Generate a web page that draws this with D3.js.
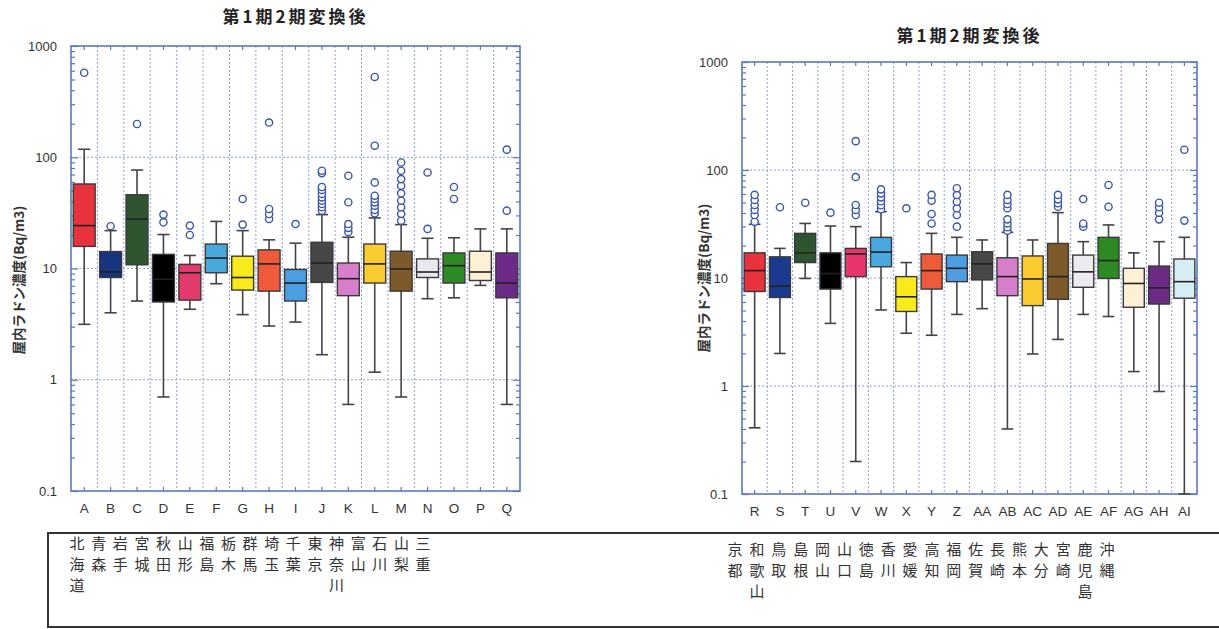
<!DOCTYPE html>
<html>
<head>
<meta charset="utf-8">
<script src="https://cdn.jsdelivr.net/npm/d3@7"></script>
<style>
  body { margin: 0; background: #fff; }
  svg { display: block; font-family: "Liberation Sans", Arial, sans-serif; }
  .jp { font-family: "Noto Sans CJK JP", sans-serif; }
  .vert { writing-mode: vertical-rl; }
</style>
</head>
<body>
<div id="chart"></div>
<script>
// ---- data ----
const chartTitle = "第1期2期変換後";
const yTitle = "屋内ラドン濃度(Bq/m3)";
const yTicks = [0.1, 1, 10, 100, 1000];
const yTickLabels = ["0.1", "1", "10", "100", "1000"];

// left panel
const leftCats = ["A","B","C","D","E","F","G","H","I","J","K","L","M","N","O","P","Q"];
const leftNames = ["北海道","青森","岩手","宮城","秋田","山形","福島","栃木","群馬","埼玉","千葉","東京","神奈川","富山","石川","山梨","三重"];
const leftColors = ["#e8333d","#17347e","#2e5530","#000000","#e43a6b","#48a8dc","#f9ea1c","#ee5a3a","#4c9ee0","#474747","#d67ec9","#fbcc32","#7c5a2c","#e8e8ee","#2e8a24","#fcf1d4","#6a2a86"];
const leftLow  = [3.15, 4.0, 5.1, 0.70, 4.3, 7.3, 3.85, 3.04, 3.3, 1.68, 0.6, 1.17, 0.70, 5.35, 5.45, 7.05, 0.6];
const leftQ1   = [15.8, 8.3, 10.8, 5.0, 5.2, 9.15, 6.4, 6.26, 5.1, 7.5, 5.7, 7.4, 6.26, 8.3, 7.4, 7.8, 5.45];
const leftMed  = [24.3, 9.3, 27.9, 8.0, 9.15, 12.4, 8.3, 11.0, 7.4, 11.2, 8.1, 11.0, 9.9, 9.3, 10.6, 9.3, 7.4];
const leftQ3   = [57.5, 14.2, 46, 13.4, 10.9, 16.6, 12.9, 14.7, 9.8, 17.2, 11.2, 16.6, 14.3, 12.2, 13.8, 14.3, 13.8];
const leftHigh = [118, 21.9, 76.8, 20.2, 13.1, 26.5, 21.9, 18.1, 16.9, 30.5, 19.1, 28.5, 24.8, 18.7, 18.9, 22.7, 22.7];
const leftOut  = [
  [575], [24], [199], [26, 30.5], [20, 24.3], [], [24.8, 42.2],
  [27.9, 30.9, 34.3, 205], [25.1],
  [33.1, 35.5, 38, 40.7, 43.6, 46.8, 50.9, 54, 72, 75.6],
  [21.3, 23.2, 25.1, 39.4, 68.2],
  [31.3, 33.6, 36.7, 39.3, 42.1, 45.1, 59.4, 127, 527],
  [26.9, 31, 35.5, 40.7, 47.4, 55.5, 63.6, 75.6, 89.7],
  [22.7, 73], [42.2, 54], [], [33.1, 117]
];

// right panel
const rightCats = ["R","S","T","U","V","W","X","Y","Z","AA","AB","AC","AD","AE","AF","AG","AH","AI"];
const rightNames = ["京都","和歌山","鳥取","島根","岡山","山口","徳島","香川","愛媛","高知","福岡","佐賀","長崎","熊本","大分","宮崎","鹿児島","沖縄"];
const rightColors = ["#e8333d","#1a3a8e","#2e5530","#000000","#e8356e","#4aa8e0","#f9ea1c","#ee5a3a","#4c9ee0","#474747","#d67ec9","#fbcc32","#7c5a2c","#ececf0","#2e8a24","#fcf1d4","#6a2a86","#d8eef6"];
const rightLow  = [0.41, 2.0, 9.9, 3.8, 0.2, 5.06, 3.08, 2.95, 4.6, 5.2, 0.4, 1.98, 2.7, 4.6, 4.4, 1.36, 0.89, 0.1];
const rightQ1   = [7.5, 6.6, 13.9, 7.9, 10.3, 12.7, 4.9, 7.9, 9.25, 9.6, 6.86, 5.55, 6.35, 8.2, 9.9, 5.36, 5.74, 6.5];
const rightMed  = [11.7, 8.4, 17.1, 11.0, 16.7, 17.4, 6.7, 11.7, 12.3, 13.5, 10.3, 9.8, 10.3, 11.4, 14.5, 8.9, 8.1, 9.25];
const rightQ3   = [17.1, 15.7, 25.9, 17.1, 18.8, 23.8, 10.3, 16.7, 16.3, 17.5, 15.4, 16, 20.9, 16.3, 23.8, 12.3, 12.9, 15];
const rightHigh = [31.4, 18.8, 32, 30.3, 29.9, 41.1, 13.9, 25.9, 23.8, 22.5, 26.5, 22.5, 40.3, 21.7, 31, 17.1, 21.7, 23.8];
const rightOut  = [
  [33.2, 38.3, 42.7, 47.4, 52.8, 58.8], [45.2], [49.8], [40.3],
  [38.3, 42.7, 47.4, 86, 185],
  [43.3, 47.1, 51.3, 55.8, 60.8, 66.2], [44.2], [32, 39.2, 52, 58.8],
  [29.9, 38.3, 44.2, 50.8, 58.8, 67.8], [],
  [27.4, 29.5, 32, 34.9, 44.2, 48.4, 52.8, 58.8], [],
  [45.7, 49.2, 53.5, 58.8], [29.9, 32, 53.8], [45.7, 72.6], [],
  [34.9, 40.3, 45.2, 49.8], [34, 154]
];

// ---- drawing ----
const svg_width = 1219, svg_height = 629;
const frameColor = "#5a78c0";
const gridColor = "#8ea0d8";

const svg = d3.select("#chart").append("svg")
  .attr("width", svg_width)
  .attr("height", svg_height);

// minor ticks 0.2..0.9, 2..9, ...
const minorTicks = [];
[0.1, 1, 10, 100].forEach(d => { for (let k = 2; k <= 9; k++) minorTicks.push(+(d * k).toPrecision(3)); });

function drawPanel(p) {
  const data = p.cats.map((c, i) => ({
    cat: c, color: p.colors[i], low: p.low[i], q1: p.q1[i], med: p.med[i],
    q3: p.q3[i], high: p.high[i], out: p.out[i]
  }));

  const x = d3.scaleBand().domain(p.cats).range([p.left, p.right]).padding(0);
  const y = d3.scaleLog().domain([0.1, 1000]).range([p.bottom, p.top]);
  const g = svg.append("g");
  const bw = x.bandwidth() * 0.83;
  const cap = x.bandwidth() * 0.46;

  // grid
  g.selectAll(".hgrid").data([1, 10, 100]).enter().append("line")
    .attr("x1", p.left).attr("x2", p.right)
    .attr("y1", d => y(d)).attr("y2", d => y(d))
    .attr("stroke", gridColor).attr("stroke-width", 1).attr("stroke-dasharray", "2,2");
  g.selectAll(".vgrid").data(p.cats.slice(1)).enter().append("line")
    .attr("x1", d => x(d)).attr("x2", d => x(d))
    .attr("y1", p.top).attr("y2", p.bottom)
    .attr("stroke", gridColor).attr("stroke-width", 1).attr("stroke-dasharray", "2,2");

  // axes (ticks inward)
  const leftAxis = g.append("g").attr("transform", `translate(${p.left},0)`)
    .call(d3.axisLeft(y).tickValues(yTicks).tickSize(-7).tickPadding(14)
      .tickFormat((d, i) => yTickLabels[i]));
  leftAxis.selectAll("text").attr("font-size", 13).attr("fill", "#333")
    .attr("font-family", "Liberation Sans, Arial, sans-serif");
  g.append("g").attr("transform", `translate(${p.left},0)`)
    .call(d3.axisLeft(y).tickValues(minorTicks).tickSize(-4).tickFormat(""));
  g.append("g").attr("transform", `translate(${p.right},0)`)
    .call(d3.axisRight(y).tickValues(yTicks).tickSize(-7).tickFormat(""));
  g.append("g").attr("transform", `translate(${p.right},0)`)
    .call(d3.axisRight(y).tickValues(minorTicks).tickSize(-4).tickFormat(""));
  g.append("g").attr("transform", `translate(0,${p.top})`)
    .call(d3.axisTop(x).tickSize(-4).tickFormat(""));
  const bottomAxis = g.append("g").attr("transform", `translate(0,${p.bottom})`)
    .call(d3.axisBottom(x).tickSize(-4).tickPadding(12));
  bottomAxis.selectAll("text").attr("font-size", 13.5).attr("fill", "#333");
  g.selectAll(".domain").remove();
  g.selectAll(".tick line").attr("stroke", frameColor).attr("stroke-width", 1.2);

  // frame
  g.append("rect")
    .attr("x", p.left).attr("y", p.top)
    .attr("width", p.right - p.left).attr("height", p.bottom - p.top)
    .attr("fill", "none").attr("stroke", frameColor).attr("stroke-width", 1.6);

  // boxes
  const box = g.selectAll(".box").data(data).enter().append("g")
    .attr("transform", d => `translate(${x(d.cat) + x.bandwidth() / 2},0)`);

  box.append("line")
    .attr("x1", 0).attr("x2", 0)
    .attr("y1", d => y(d.low)).attr("y2", d => y(d.high))
    .attr("stroke", "#444").attr("stroke-width", 1.6);
  box.selectAll(".cap").data(d => [d.low, d.high]).enter().append("line")
    .attr("x1", -cap / 2).attr("x2", cap / 2)
    .attr("y1", v => y(v)).attr("y2", v => y(v))
    .attr("stroke", "#444").attr("stroke-width", 1.6);
  box.append("rect")
    .attr("x", -bw / 2).attr("width", bw)
    .attr("y", d => y(d.q3)).attr("height", d => y(d.q1) - y(d.q3))
    .attr("fill", d => d.color).attr("stroke", "#3a3a3a").attr("stroke-width", 1.4);
  box.append("line")
    .attr("x1", -bw / 2).attr("x2", bw / 2)
    .attr("y1", d => y(d.med)).attr("y2", d => y(d.med))
    .attr("stroke", "#222").attr("stroke-width", 1.6);
  box.selectAll(".out").data(d => d.out).enter().append("circle")
    .attr("cx", 0).attr("cy", v => y(v)).attr("r", 3.6)
    .attr("fill", "#fff").attr("stroke", "#3a56aa").attr("stroke-width", 1.4);

  // titles
  svg.append("text").attr("class", "jp")
    .attr("x", (p.left + p.right) / 2).attr("y", p.titleY)
    .attr("text-anchor", "middle").attr("font-size", 17).attr("font-weight", "bold")
    .attr("letter-spacing", 3).attr("fill", "#222")
    .text(chartTitle);
  svg.append("text").attr("class", "jp")
    .attr("transform", `translate(${p.yTitleX},${p.yTitleY}) rotate(-90)`)
    .attr("text-anchor", "middle").attr("font-size", 13.5).attr("font-weight", "bold")
    .attr("fill", "#333")
    .text(yTitle);

  // prefecture names, written vertically
  const nx = d3.scalePoint().domain(p.names).range(p.nameRange);
  svg.selectAll(null).data(p.names).enter().append("text")
    .attr("class", "jp vert")
    .attr("x", d => nx(d)).attr("y", p.nameTop)
    .attr("font-size", 15).attr("letter-spacing", 6).attr("fill", "#333")
    .text(d => d);
}

drawPanel({
  cats: leftCats, names: leftNames, colors: leftColors,
  low: leftLow, q1: leftQ1, med: leftMed, q3: leftQ3, high: leftHigh, out: leftOut,
  left: 71, right: 520, top: 46, bottom: 491,
  titleY: 23, yTitleX: 24, yTitleY: 280,
  nameRange: [77, 423], nameTop: 536
});
drawPanel({
  cats: rightCats, names: rightNames, colors: rightColors,
  low: rightLow, q1: rightQ1, med: rightMed, q3: rightQ3, high: rightHigh, out: rightOut,
  left: 742, right: 1197, top: 62, bottom: 494,
  titleY: 42, yTitleX: 709, yTitleY: 278,
  nameRange: [735, 1107], nameTop: 542
});

// frame around the names
svg.append("rect")
  .attr("x", 48).attr("y", 533)
  .attr("width", 1200).attr("height", 94)
  .attr("fill", "none").attr("stroke", "#333").attr("stroke-width", 2);
</script>
</body>
</html>
